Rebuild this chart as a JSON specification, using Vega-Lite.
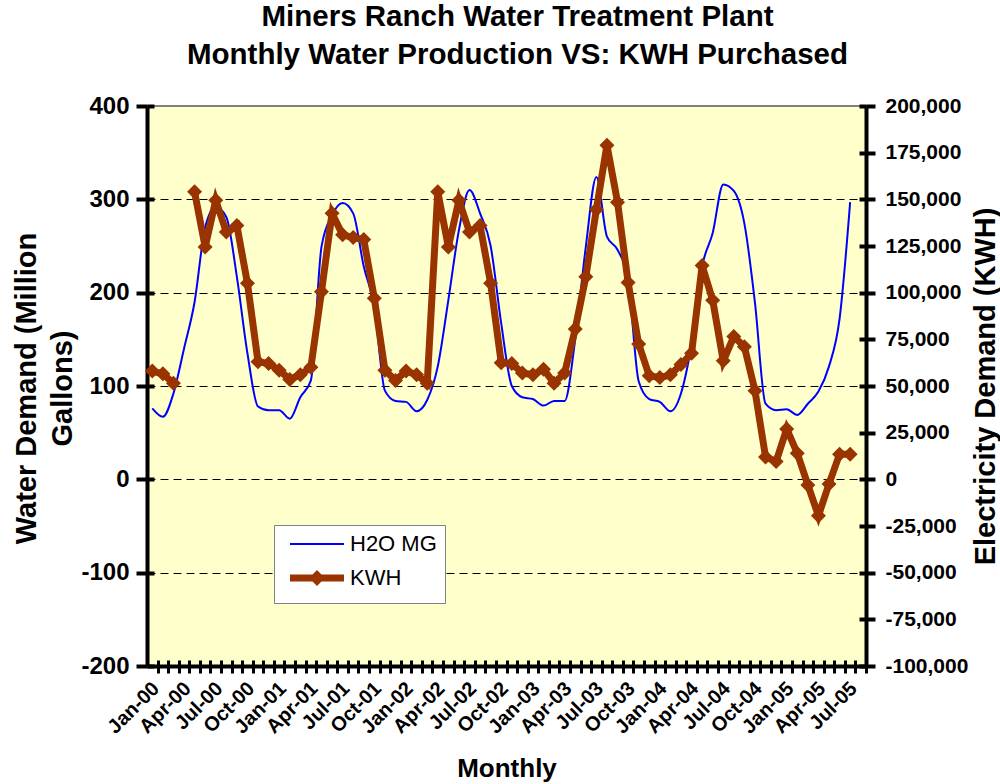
{
  "$schema": "https://vega.github.io/schema/vega-lite/v6.json",
  "width": 719,
  "height": 560,
  "autosize": {"type": "none"},
  "padding": {"left": 147, "top": 106, "right": 134, "bottom": 118},
  "background": "white",
  "config": {
    "font": "Liberation Sans",
    "view": {"fill": "#FFFFCC", "stroke": "#808080", "strokeWidth": 2},
    "axis": {"labelFont": "Liberation Sans", "labelFontWeight": "bold", "titleFont": "Liberation Sans", "titleFontWeight": "bold", "labelColor": "black", "titleColor": "black", "domainColor": "black", "tickColor": "black"}
  },
  "title": {
    "text": ["Miners Ranch Water Treatment Plant", "Monthly Water Production VS: KWH Purchased"],
    "font": "Liberation Sans", "fontSize": 29.5, "fontWeight": "bold", "lineHeight": 38,
    "anchor": "middle", "frame": "group", "dx": 11, "offset": 24, "color": "black"
  },
  "data": {"values": [
    {"month":"Jan-00","h2o":76,"kwh":58000},
    {"month":"Feb-00","h2o":67,"kwh":56500},
    {"month":"Mar-00","h2o":92,"kwh":51500},
    {"month":"Apr-00","h2o":140,"kwh":null},
    {"month":"May-00","h2o":190,"kwh":154000},
    {"month":"Jun-00","h2o":270,"kwh":124500},
    {"month":"Jul-00","h2o":292,"kwh":149500},
    {"month":"Aug-00","h2o":281,"kwh":132500},
    {"month":"Sep-00","h2o":217,"kwh":136000},
    {"month":"Oct-00","h2o":135,"kwh":105000},
    {"month":"Nov-00","h2o":78,"kwh":63000},
    {"month":"Dec-00","h2o":74,"kwh":62000},
    {"month":"Jan-01","h2o":74,"kwh":58500},
    {"month":"Feb-01","h2o":65,"kwh":53500},
    {"month":"Mar-01","h2o":88,"kwh":56000},
    {"month":"Apr-01","h2o":106,"kwh":60000},
    {"month":"May-01","h2o":249,"kwh":100500},
    {"month":"Jun-01","h2o":283,"kwh":142500},
    {"month":"Jul-01","h2o":296,"kwh":131000},
    {"month":"Aug-01","h2o":285,"kwh":129500},
    {"month":"Sep-01","h2o":228,"kwh":128500},
    {"month":"Oct-01","h2o":185,"kwh":97000},
    {"month":"Nov-01","h2o":95,"kwh":58500},
    {"month":"Dec-01","h2o":84,"kwh":53000},
    {"month":"Jan-02","h2o":83,"kwh":58000},
    {"month":"Feb-02","h2o":73,"kwh":56000},
    {"month":"Mar-02","h2o":85,"kwh":51500},
    {"month":"Apr-02","h2o":121,"kwh":154000},
    {"month":"May-02","h2o":192,"kwh":124500},
    {"month":"Jun-02","h2o":267,"kwh":149500},
    {"month":"Jul-02","h2o":310,"kwh":132500},
    {"month":"Aug-02","h2o":285,"kwh":136000},
    {"month":"Sep-02","h2o":250,"kwh":105000},
    {"month":"Oct-02","h2o":167,"kwh":62500},
    {"month":"Nov-02","h2o":100,"kwh":62000},
    {"month":"Dec-02","h2o":88,"kwh":57000},
    {"month":"Jan-03","h2o":86,"kwh":56000},
    {"month":"Feb-03","h2o":79,"kwh":59000},
    {"month":"Mar-03","h2o":84,"kwh":51500},
    {"month":"Apr-03","h2o":84,"kwh":57000},
    {"month":"May-03","h2o":150,"kwh":80500},
    {"month":"Jun-03","h2o":249,"kwh":108500},
    {"month":"Jul-03","h2o":324,"kwh":144500},
    {"month":"Aug-03","h2o":260,"kwh":179000},
    {"month":"Sep-03","h2o":246,"kwh":148500},
    {"month":"Oct-03","h2o":214,"kwh":105500},
    {"month":"Nov-03","h2o":105,"kwh":72500},
    {"month":"Dec-03","h2o":86,"kwh":55500},
    {"month":"Jan-04","h2o":83,"kwh":54500},
    {"month":"Feb-04","h2o":73,"kwh":56000},
    {"month":"Mar-04","h2o":92,"kwh":61500},
    {"month":"Apr-04","h2o":145,"kwh":67500},
    {"month":"May-04","h2o":228,"kwh":114500},
    {"month":"Jun-04","h2o":264,"kwh":96000},
    {"month":"Jul-04","h2o":316,"kwh":63500},
    {"month":"Aug-04","h2o":309,"kwh":76500},
    {"month":"Sep-04","h2o":274,"kwh":71000},
    {"month":"Oct-04","h2o":189,"kwh":47500},
    {"month":"Nov-04","h2o":81,"kwh":12000},
    {"month":"Dec-04","h2o":74,"kwh":9500},
    {"month":"Jan-05","h2o":75,"kwh":27000},
    {"month":"Feb-05","h2o":69,"kwh":14000},
    {"month":"Mar-05","h2o":81,"kwh":-3000},
    {"month":"Apr-05","h2o":94,"kwh":-19500},
    {"month":"May-05","h2o":121,"kwh":-2500},
    {"month":"Jun-05","h2o":172,"kwh":13500},
    {"month":"Jul-05","h2o":297,"kwh":13500},
    {"month":"Aug-05","h2o":null,"kwh":null}
  ]},
  "layer": [
    {
      "mark": {"type": "line", "strokeWidth": 2, "interpolate": "monotone"},
      "encoding": {
        "x": {
          "field": "month", "type": "ordinal", "sort": null,
          "scale": {"type": "point", "padding": 0.5},
          "axis": {
            "labelAngle": -45, "labelFontSize": 20, "labelPadding": 5,
            "labelExpr": "indexof(['Jan','Apr','Jul','Oct'], slice(datum.value,0,3)) >= 0 ? datum.value : ''",
            "tickSize": 7, "tickWidth": 3, "domainWidth": 4,
            "tickOffset": 5.29, "labelOffset": -9,
            "title": "Monthly", "titleFontSize": 26, "titleY": 102, "titleBaseline": "middle"
          }
        },
        "y": {
          "field": "h2o", "type": "quantitative",
          "scale": {"domain": [-200, 400], "nice": false, "zero": false},
          "axis": {
            "orient": "left", "values": [-200, -100, 0, 100, 200, 300, 400],
            "labelExpr": "'' + datum.value",
            "grid": true, "gridDash": [8, 5], "gridColor": "black", "gridWidth": 1,
            "gridOpacity": {"condition": {"test": "datum.value === 400 || datum.value === -200", "value": 0}, "value": 1},
            "domainWidth": 4, "tickWidth": 4, "tickSize": 11,
            "labelFontSize": 24, "labelPadding": 7,
            "title": ["Water Demand (Million", "Gallons)"], "titleFontSize": 29,
            "titleAngle": -90, "titleX": -121, "titleY": 282, "titleBaseline": "middle", "titleAlign": "center", "titleLineHeight": 36
          }
        },
        "color": {
          "datum": "H2O MG",
          "scale": {"domain": ["H2O MG", "KWH"], "range": ["#0000FF", "#993300"]},
          "legend": {
            "orient": "none", "legendX": 127, "legendY": 419, "title": null,
            "fillColor": "white", "strokeColor": "#808080", "padding": 8,
            "labelFont": "Liberation Sans", "labelFontSize": 22, "labelColor": "black",
            "symbolSize": 100, "labelOffset": 46, "rowPadding": 6,
            "encode": {
              "symbols": {
                "update": {
                  "shape": {"signal": "datum.value === 'KWH' ? 'M-0.6,0L10.2,0M4.2,0L4.8,-0.6L5.4,0L4.8,0.6Z' : 'M-0.6,0L10.2,0'"},
                  "strokeWidth": {"signal": "datum.value === 'KWH' ? 7 : 2"},
                  "stroke": {"signal": "datum.value === 'KWH' ? '#993300' : '#0000FF'"},
                  "fill": {"signal": "datum.value === 'KWH' ? '#993300' : 'transparent'"},
                  "size": {"value": 100},
                  "opacity": {"value": 1}
                }
              }
            }
          }
        }
      }
    },
    {
      "mark": {"type": "line", "strokeWidth": 7, "point": {"shape": "diamond", "size": 225, "filled": true, "opacity": 1}},
      "encoding": {
        "x": {"field": "month", "type": "ordinal", "sort": null, "axis": null},
        "y": {
          "field": "kwh", "type": "quantitative",
          "scale": {"domain": [-100000, 200000], "nice": false, "zero": false},
          "axis": {
            "orient": "right", "values": [-100000, -75000, -50000, -25000, 0, 25000, 50000, 75000, 100000, 125000, 150000, 175000, 200000],
            "labelExpr": "replace(format(datum.value, ','), '\u2212', '-')", "grid": false,
            "domainWidth": 4, "tickWidth": 4, "tickSize": 9,
            "labelFontSize": 21, "labelPadding": 10,
            "title": "Electricity Demand (KWH)", "titleFontSize": 29,
            "titleAngle": -90, "titleX": 119, "titleY": 280, "titleBaseline": "middle", "titleAlign": "center"
          }
        },
        "color": {"datum": "KWH"}
      }
    },
    {
      "mark": {"type": "line", "opacity": 0},
      "encoding": {
        "x": {
          "field": "month", "type": "ordinal", "sort": null,
          "axis": {"orient": "bottom", "labels": false, "domain": false, "title": null, "grid": false, "tickSize": -6, "tickWidth": 3, "tickOffset": 5.29}
        },
        "y": {
          "field": "h2o", "type": "quantitative",
          "scale": {"domain": [-200, 400], "nice": false, "zero": false},
          "axis": {"orient": "left", "values": [-200, -100, 0, 100, 200, 300, 400], "labels": false, "domain": false, "title": null, "grid": false, "tickSize": -7, "tickWidth": 4}
        }
      }
    },
    {
      "mark": {"type": "line", "opacity": 0},
      "encoding": {
        "x": {"field": "month", "type": "ordinal", "sort": null, "axis": null},
        "y": {
          "field": "kwh", "type": "quantitative",
          "scale": {"domain": [-100000, 200000], "nice": false, "zero": false},
          "axis": {"orient": "right", "values": [-100000, -75000, -50000, -25000, 0, 25000, 50000, 75000, 100000, 125000, 150000, 175000, 200000], "labels": false, "domain": false, "title": null, "grid": false, "tickSize": -7, "tickWidth": 4}
        }
      }
    }
  ],
  "resolve": {"scale": {"y": "independent"}, "axis": {"x": "independent"}}
}
